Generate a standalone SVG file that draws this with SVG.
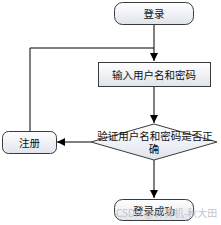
<svg xmlns="http://www.w3.org/2000/svg" width="221" height="225" viewBox="0 0 221 225">
<style>
.box{stroke:#3a3a3a;stroke-width:1;fill:url(#g)}
.t{font-family:"Noto Sans CJK SC","Liberation Sans",sans-serif;font-size:10.5px;fill:#111;text-anchor:middle;dominant-baseline:central}
.c{stroke:#000;stroke-width:1;fill:none}
.wm{font-family:"Noto Sans CJK SC","Liberation Sans",sans-serif;font-size:10px;fill:#bbb;opacity:0.85}
</style>
<defs>
<linearGradient id="g" x1="0" y1="0" x2="0" y2="1">
<stop offset="0" stop-color="#ffffff"/>
<stop offset="1" stop-color="#dfe4ec"/>
</linearGradient>
<marker id="a" markerWidth="8" markerHeight="8" refX="8" refY="4" orient="auto" markerUnits="userSpaceOnUse">
<path d="M0,0 L8,4 L0,8 z" fill="#000"/>
</marker>
</defs>
<rect width="221" height="225" fill="#fff"/>
<g id="connectors">
<path class="c" d="M154,24 V61" marker-end="url(#a)"/>
<path class="c" d="M30,131 V48 H154"/>
<path class="c" d="M154,86 V123" marker-end="url(#a)"/>
<path class="c" d="M91,142 H57" marker-end="url(#a)"/>
<path class="c" d="M154,160 V198" marker-end="url(#a)"/>
</g>
<g id="login">
<rect class="box" x="114.5" y="2.5" width="79" height="22" rx="8"/>
<text class="t" x="154" y="13.5">登录</text>
</g>
<g id="input">
<rect class="box" x="98.5" y="62.5" width="112" height="24"/>
<text class="t" x="154" y="74.5">输入用户名和密码</text>
</g>
<g id="verify">
<polygon class="box" points="154,124 217,142 154,160 91,142"/>
<text class="t" x="155" y="135">验证用户名和密码是否正</text>
<text class="t" x="154" y="148.5">确</text>
</g>
<g id="register">
<rect class="box" x="2.5" y="131.5" width="54" height="22" rx="6"/>
<text class="t" x="29.5" y="142.5">注册</text>
</g>
<g id="success">
<rect class="box" x="114.5" y="199.5" width="79" height="21" rx="8"/>
<text class="t" x="154" y="210">登录成功</text>
</g>
<text class="wm" x="116" y="217">CSDN @计算机-秋大田</text>
</svg>
